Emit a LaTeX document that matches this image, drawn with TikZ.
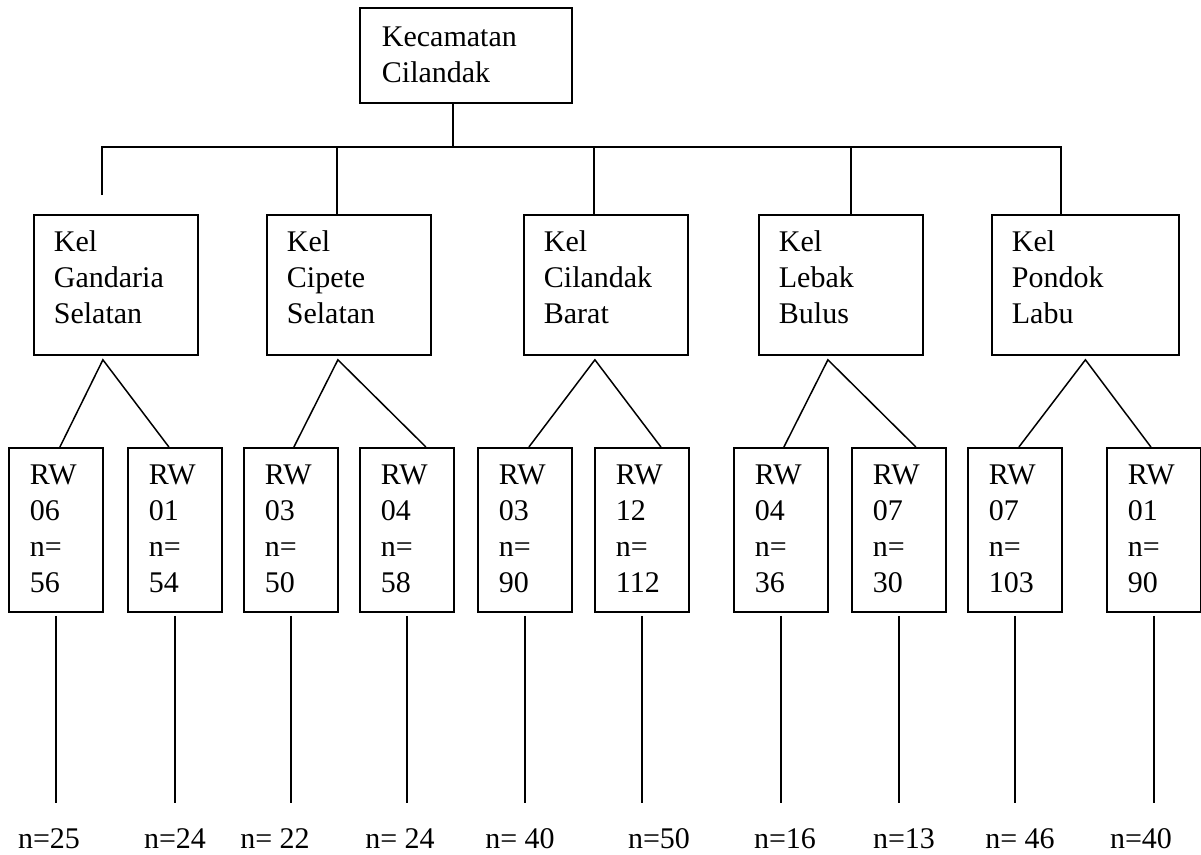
\documentclass[tikz,border=0pt]{standalone}
\usepackage{fontspec}
\setmainfont{Liberation Serif}
\usetikzlibrary{positioning, calc}

\begin{document}
\begin{tikzpicture}[x=1pt, y=-1pt,
        font=\fontsize{30pt}{36pt}\selectfont,
        box/.style={rectangle, draw=black, line width=1.8pt, anchor=north west, align=left, inner xsep=20pt, inner ysep=0pt, text height=37pt},
        kec/.style={box, inner xsep=22pt, text width=168pt, text height=39pt, text depth=56pt},
        kel/.style={box, text width=124pt, text depth=103pt},
        rw/.style={box, inner xsep=21pt, text width=52pt, text depth=127pt},
        nval/.style={anchor=base, inner sep=0pt, outer ysep=25pt},
        link/.style={line width=1.5pt}
    ]
        \useasboundingbox (0,0) rectangle (1201,854);

        % Kecamatan
        \node[kec] (kec) at (359,7) {Kecamatan\\Cilandak};

        % Kelurahan
        \node[kel] (kel1) at (33,214) {Kel\\Gandaria\\Selatan};
        \node[kel] (kel2) at (266,214) {Kel\\Cipete\\Selatan};
        \node[kel] (kel3) at (523,214) {Kel\\Cilandak\\Barat};
        \node[kel] (kel4) at (758,214) {Kel\\Lebak\\Bulus};
        \node[kel, text width=147pt] (kel5) at (991,214) {Kel\\Pondok\\Labu};

        % RW
        \node[rw] (rw1) at (8,447) {RW\\06\\n=\\56};
        \node[rw] (rw2) at (127,447) {RW\\01\\n=\\54};
        \node[rw] (rw3) at (243,447) {RW\\03\\n=\\50};
        \node[rw] (rw4) at (359,447) {RW\\04\\n=\\58};
        \node[rw] (rw5) at (477,447) {RW\\03\\n=\\90};
        \node[rw] (rw6) at (594,447) {RW\\12\\n=\\112};
        \node[rw] (rw7) at (733,447) {RW\\04\\n=\\36};
        \node[rw] (rw8) at (851,447) {RW\\07\\n=\\30};
        \node[rw] (rw9) at (967,447) {RW\\07\\n=\\103};
        \node[rw] (rw10) at (1106,447) {RW\\01\\n=\\90};

        % samples
        \node[nval] (n1) at (49,848) {n=25};
        \node[nval] (n2) at (175,848) {n=24};
        \node[nval] (n3) at (275,848) {n= 22};
        \node[nval] (n4) at (400,848) {n= 24};
        \node[nval] (n5) at (520,848) {n= 40};
        \node[nval] (n6) at (659,848) {n=50};
        \node[nval] (n7) at (785,848) {n=16};
        \node[nval] (n8) at (904,848) {n=13};
        \node[nval] (n9) at (1020,848) {n= 46};
        \node[nval] (n10) at (1141,848) {n=40};

        % tree lines
        \coordinate (hub) at (453,147);
        \coordinate (barL) at (102,147);
        \coordinate (barR) at (1061,147);
        \coordinate (d1) at (102,195);
        \draw[link] (hub |- kec.south) -- (hub);
        \draw[link] (d1) -- (barL) -- (barR) -- (barR |- kel5.north);
        \foreach \x/\k in {337/kel2, 594/kel3, 851/kel4}
            \draw[link] (\x,147) -- (\x,147 |- \k.north);

        \coordinate (a1) at ([xshift=-13pt, yshift=-4pt]kel1.south);
        \coordinate (a2) at ([xshift=-11pt, yshift=-4pt]kel2.south);
        \coordinate (a3) at ([xshift=-11pt, yshift=-4pt]kel3.south);
        \coordinate (a4) at ([xshift=-13pt, yshift=-4pt]kel4.south);
        \coordinate (a5) at ([yshift=-4pt]kel5.south);
        \draw[link] ([xshift=4pt]rw1.north) -- (a1) -- ([xshift=-6pt]rw2.north);
        \draw[link] ([xshift=3pt]rw3.north) -- (a2) -- ([xshift=19pt]rw4.north);
        \draw[link] ([xshift=4pt]rw5.north) -- (a3) -- ([xshift=19pt]rw6.north);
        \draw[link] ([xshift=3pt]rw7.north) -- (a4) -- ([xshift=17pt]rw8.north);
        \draw[link] ([xshift=4pt]rw9.north) -- (a5) -- ([xshift=-3pt]rw10.north);

        \foreach \i in {1,...,10}
            \draw[link] ([yshift=-3pt]rw\i.south) -- (rw\i.south |- n\i.north);
    \end{tikzpicture}
\end{document}
